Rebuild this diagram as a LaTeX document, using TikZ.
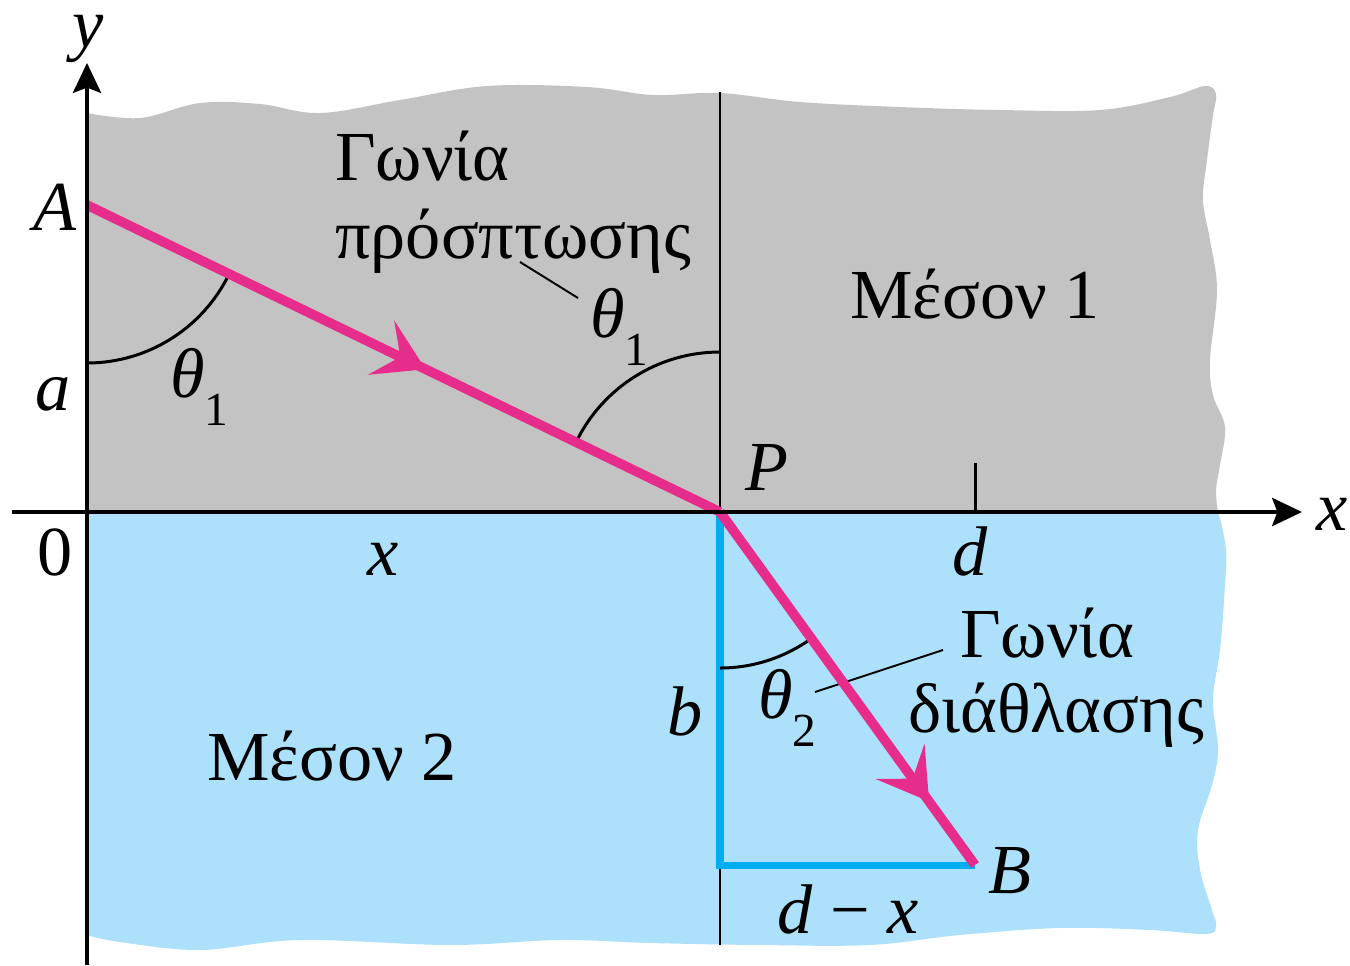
\documentclass[tikz,border=0pt]{standalone}
\usepackage{fontspec}
\setmainfont{Liberation Serif}
\usetikzlibrary{arrows.meta,decorations.markings}
\definecolor{medgray}{RGB}{195,195,195}
\definecolor{medblue}{RGB}{173,224,250}
\definecolor{raypink}{RGB}{231,45,139}
\definecolor{legblue}{RGB}{0,174,239}
\newcommand{\thsub}[2]{\textit{#1}\raisebox{-0.4em}{\fontsize{27}{29}\selectfont #2}}
\begin{document}
\begin{tikzpicture}[x=0.02cm,y=-0.02cm,font=\fontsize{40}{46}\selectfont,
  lbl/.style={inner sep=0pt,anchor=base},
  lblw/.style={inner sep=0pt,anchor=base west},
  axisline/.style={line width=2.3pt,-{Stealth[length=17pt,width=16pt,inset=3pt]}},
  normalline/.style={line width=1.7pt},
  rayline/.style={color=raypink,line width=5.5pt},
  midarrow/.style={postaction={decorate,decoration={markings,mark=at position #1 with {\arrow{Stealth[length=28pt,width=34pt,inset=12pt]}}}}},
  legline/.style={draw=legblue,line width=4pt},
  arcline/.style={line width=1.7pt},
  leaderline/.style={line width=1.1pt}]
\useasboundingbox (0,0) rectangle (1350,965);
% media
\fill[medgray] (87,512) -- (87,113) -- plot[smooth,tension=0.6] coordinates {(87,113) (140,118) (200,103) (260,104) (320,113) (400,100) (487,86) (587,87) (653,95) (720,93) (800,102) (900,107) (1000,110) (1100,110) (1170,97) (1205,86) (1216,94) (1213,115) (1207,160) (1203,200) (1210,240) (1217,290) (1210,360) (1213,395) (1225,427) (1220,465) (1216,490) (1218,512)} -- cycle;
\fill[medblue] (87,512) -- plot[smooth,tension=0.6] coordinates {(1218,512) (1226,550) (1224,600) (1220,650) (1213,700) (1218,750) (1212,785) (1198,830) (1200,870) (1212,910) (1216,926) (1206,934) (1150,930) (1060,928) (960,935) (870,945) (760,945) (650,943) (560,940) (450,945) (300,940) (200,950) (120,942) (87,935)} -- cycle;
% points
\coordinate (A) at (87,205);
\coordinate (P) at (720,512);
\coordinate (B) at (975,865);
\coordinate (C) at (720,865);
\coordinate (ntop) at (720,92);
\coordinate (nbot1) at (720,869);
\coordinate (nbot2) at (720,945);
\coordinate (dtick) at (975,463);
\coordinate (dbase) at (975,512);
\coordinate (ybot) at (87,965);
\coordinate (ytop) at (87,63);
\coordinate (xleft) at (12,512);
\coordinate (xright) at (1302,512);
\coordinate (l1a) at (520,262);
\coordinate (l1b) at (578,298);
\coordinate (l2a) at (815,692);
\coordinate (l2b) at (943,650);
% normal
\draw[normalline] (ntop) -- (P);
\draw[normalline] (nbot1) -- (nbot2);
\draw[normalline] (dtick) -- (dbase);
% legs
\draw[legline] (P) -- (C) -- (B);
% arcs
\draw[arcline] ([shift={(90:158)}]A) arc[start angle=90,end angle=25.9,radius=158];
\draw[arcline] ([shift={(270:160)}]P) arc[start angle=270,end angle=205.9,radius=160];
\draw[arcline] ([shift={(90:156)}]P) arc[start angle=90,end angle=54.2,radius=156];
% leaders
\draw[leaderline] (l1a) -- (l1b);
\draw[leaderline] (l2a) -- (l2b);
% rays
\draw[rayline,midarrow=0.535] (A) -- (P);
\draw[rayline,midarrow=0.82] (P) -- (B);
% axes
\draw[axisline] (ybot) -- (ytop);
\draw[axisline] (xleft) -- (xright);
% labels
\node[lbl] (ylab) at (88,47) {\textit{y}};
\node[lbl] (xlab) at (1332,530) {\textit{x}};
\node[lbl] (Alab) at (55,230) {\textit{A}};
\node[lbl] (alab) at (53,410) {\textit{a}};
\node[lbl] (zlab) at (55,575) {0};
\node[lblw] (th1a) at (170,397) {\thsub{θ}{1}};
\node[lbl] (xmid) at (383,575) {\textit{x}};
\node[lblw] (inc1) at (335,180) {Γωνία};
\node[lblw] (inc2) at (335,258) {πρόσπτωσης};
\node[lblw] (th1b) at (590,337) {\thsub{θ}{1}};
\node[lblw] (med1) at (850,318) {Μέσον 1};
\node[lbl] (Plab) at (767,490) {\textit{P}};
\node[lbl] (dlab) at (970,575) {\textit{d}};
\node[lblw] (ref1) at (960,657) {Γωνία};
\node[lblw] (ref2) at (908,732) {διάθλασης};
\node[lblw] (th2) at (758,718) {\thsub{θ}{2}};
\node[lbl] (blab) at (685,735) {\textit{b}};
\node[lblw] (med2) at (207,780) {Μέσον 2};
\node[lbl] (Blab) at (1010,893) {\textit{B}};
\node[lbl] (dxlab) at (848,933) {\textit{d} − \textit{x}};
\end{tikzpicture}
\end{document}
